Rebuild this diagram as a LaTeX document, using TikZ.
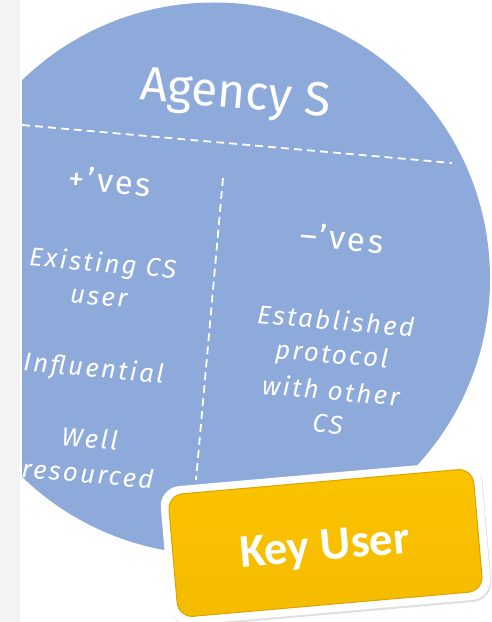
\documentclass[tikz,border=0pt]{standalone}
\usepackage{fontspec}
\setmainfont{Fira Sans}
\newfontfamily\keyfont{Carlito}
\newfontfamily\itemfont[LetterSpace=9]{Fira Sans Italic}
\newfontfamily\headfont[LetterSpace=7]{Fira Sans}
\usetikzlibrary{shadows}
\definecolor{circblue}{RGB}{142,170,219}
\definecolor{keyyellow}{RGB}{245,187,0}
\definecolor{keytop}{RGB}{250,196,0}
\definecolor{keyedge}{RGB}{220,163,0}
\definecolor{stripgrey}{RGB}{243,243,243}
\begin{document}
\begin{tikzpicture}[x=1bp,y=-1bp,
  txt/.style={text=white, rotate=-5, inner sep=0pt, anchor=base},
  head/.style={txt, font=\headfont\fontsize{33}{38}\selectfont},
  title/.style={txt, font=\fontsize{48}{56}\selectfont},
  item/.style={txt, font=\itemfont\fontsize{26}{30}\selectfont},
  divider/.style={white, line width=1.8bp, dash pattern=on 8bp off 5bp},
  keyouter/.style={rotate=5, rounded corners=20bp, fill=white, minimum width=322bp, minimum height=139bp, inner sep=0pt,
     drop shadow={opacity=0.25, shadow xshift=1bp, shadow yshift=-2bp}},
  keyinner/.style={rotate=5, rounded corners=15bp, top color=keytop, bottom color=keyyellow, draw=keyedge, line width=1bp,
     minimum width=306bp, minimum height=123bp, inner sep=0pt},
  keytext/.style={text=white, rotate=5, inner sep=0pt, anchor=base, font=\keyfont\bfseries\fontsize{47}{56}\selectfont}]
\useasboundingbox (0,0) rectangle (492,622);
\fill[stripgrey] (0,0) rectangle (20,622);
\begin{scope}
  \clip (22,0) rectangle (492,622);
  \fill[circblue] (214,278.5) circle[radius=276bp];
\end{scope}
% dividers
\coordinate (hL) at (22,125);
\coordinate (hR) at (452,163);
\coordinate (vT) at (223,178);
\coordinate (vB) at (196,480);
\draw[divider] (hL) -- (hR);
\draw[divider] (vT) -- (vB);
% texts
\node[title] (agency) at (234,108) {Agency S};
\node[head] (pos) at (109,193) {+’ves};
\node[head] (neg) at (341,250) {–’ves};
\node[item] (p1a) at (102,272) {Existing CS};
\node[item] (p1b) at (98,305) {user};
\node[item] (p2) at (93,377) {Influential};
\node[item] (p3a) at (89,448) {Well};
\node[item] (p3b) at (87,483) {resourced};
\node[item] (n1a) at (335,330) {Established};
\node[item] (n1b) at (331,363) {protocol};
\node[item] (n1c) at (330,400) {with other};
\node[item] (n1d) at (327,433) {CS};
% key user box
\node[keyouter] (keybox) at (325.5,543) {};
\node[keyinner] (keyfill) at (keybox.center) {};
\node[keytext] (keylabel) at (326,560) {Key User};
\end{tikzpicture}
\end{document}
